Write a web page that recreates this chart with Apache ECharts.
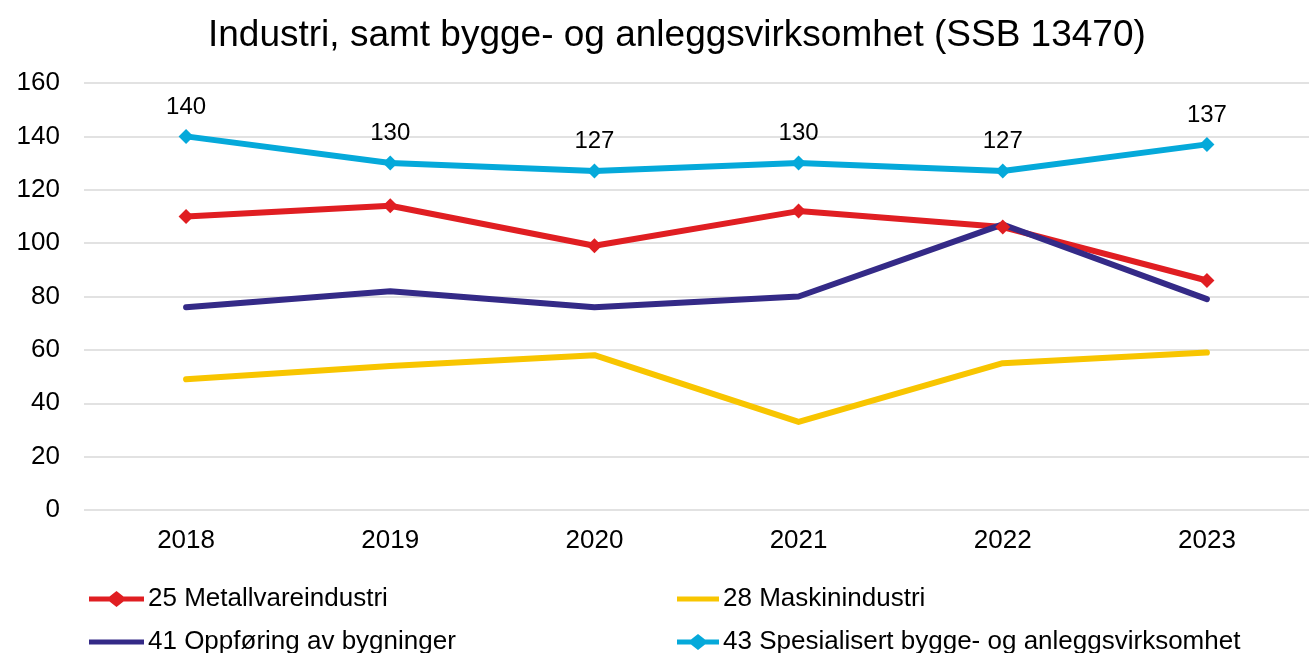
<!DOCTYPE html>
<html lang="no">
<head>
    <meta charset="UTF-8">
    <title>SSB 13470</title>
    <script src="https://cdn.jsdelivr.net/npm/echarts@6/dist/echarts.min.js"></script>
    <style>
        html, body { margin: 0; padding: 0; background: #fff; }
    </style>
</head>
<body>
<div id="main" style="width: 1309px;height:653px;"></div>
<script>
    var years = ['2018', '2019', '2020', '2021', '2022', '2023'];
    var metall = [110, 114, 99, 112, 106, 86];
    var maskin = [49, 54, 58, 33, 55, 59];
    var oppforing = [76, 82, 76, 80, 107, 79];
    var spesialisert = [140, 130, 127, 130, 127, 137];
    var yTicks = [0, 20, 40, 60, 80, 100, 120, 140, 160];

    var myChart = echarts.init(document.getElementById('main'));

    var font = 'Liberation Sans, Arial, sans-serif';

    // legend icons (box 0..W x 0..16): plain line, or line with a diamond in the middle
    var iconLine = 'path://M0,0H0.01V16H0ZM0,5.5H55V10.5H0Z';
    var iconDiamond = 'path://M0,5.5H20.5L27.5,0L34.5,5.5H55V10.5H34.5L27.5,16L20.5,10.5H0Z';
    var iconLine2 = 'path://M0,0H0.01V16H0ZM0,5.5H42V10.5H0Z';
    var iconDiamond2 = 'path://M0,5.5H14L21,0L28,5.5H42V10.5H28L21,16L14,10.5H0Z';

    function lineSeries(name, data, color, marker) {
        return {
            name: name,
            type: 'line',
            data: data,
            symbol: marker ? 'diamond' : 'none',
            symbolSize: 15,
            showSymbol: marker,
            lineStyle: { width: 6, color: color, cap: 'round', join: 'round' },
            itemStyle: { color: color },
            animation: false
        };
    }

    var series = [
        lineSeries('25 Metallvareindustri', metall, '#E01E22', true),
        lineSeries('28 Maskinindustri', maskin, '#F8C500', false),
        lineSeries('41 Oppføring av bygninger', oppforing, '#342A87', false),
        lineSeries('43 Spesialisert bygge- og anleggsvirksomhet', spesialisert, '#05A9DA', true)
    ];
    series[3].label = {
        show: true,
        position: 'top',
        distance: 10,
        fontSize: 24,
        fontFamily: font,
        color: '#000'
    };

    var legendText = { fontSize: 26, lineHeight: 26, fontFamily: font, color: '#000', padding: [0, 0, 0, -1] };

    var option = {
        backgroundColor: '#fff',
        title: {
            text: 'Industri, samt bygge- og anleggsvirksomhet (SSB 13470)',
            left: 203,
            top: 12,
            textStyle: { fontSize: 37, fontWeight: 'normal', fontFamily: font, color: '#000' }
        },
        legend: [
            {
                data: [
                    { name: '25 Metallvareindustri', icon: iconDiamond },
                    { name: '41 Oppføring av bygninger', icon: iconLine }
                ],
                orient: 'vertical',
                left: 89,
                top: 586,
                height: 120,
                padding: 0,
                itemWidth: 55,
                itemHeight: 16,
                itemGap: 17,
                textStyle: legendText
            },
            {
                data: [
                    { name: '28 Maskinindustri', icon: iconLine2 },
                    { name: '43 Spesialisert bygge- og anleggsvirksomhet', icon: iconDiamond2 }
                ],
                orient: 'vertical',
                left: 677,
                top: 586,
                height: 120,
                padding: 0,
                itemWidth: 42,
                itemHeight: 16,
                itemGap: 17,
                textStyle: legendText
            }
        ],
        grid: { left: 84, right: -17, top: 83, bottom: 143 },
        xAxis: {
            type: 'category',
            data: years,
            boundaryGap: true,
            axisLine: { show: false },
            axisTick: { show: false },
            axisLabel: { fontSize: 26, fontFamily: font, color: '#000', margin: 18 }
        },
        yAxis: {
            type: 'value',
            min: yTicks[0],
            max: yTicks[yTicks.length - 1],
            interval: 20,
            axisLine: { show: false },
            axisTick: { show: false },
            axisLabel: { fontSize: 26, fontFamily: font, color: '#000', margin: 24 },
            splitLine: { lineStyle: { color: '#D9D9D9', width: 1.5 } }
        },
        series: series
    };
    myChart.setOption(option);
</script>
</body>
</html>
